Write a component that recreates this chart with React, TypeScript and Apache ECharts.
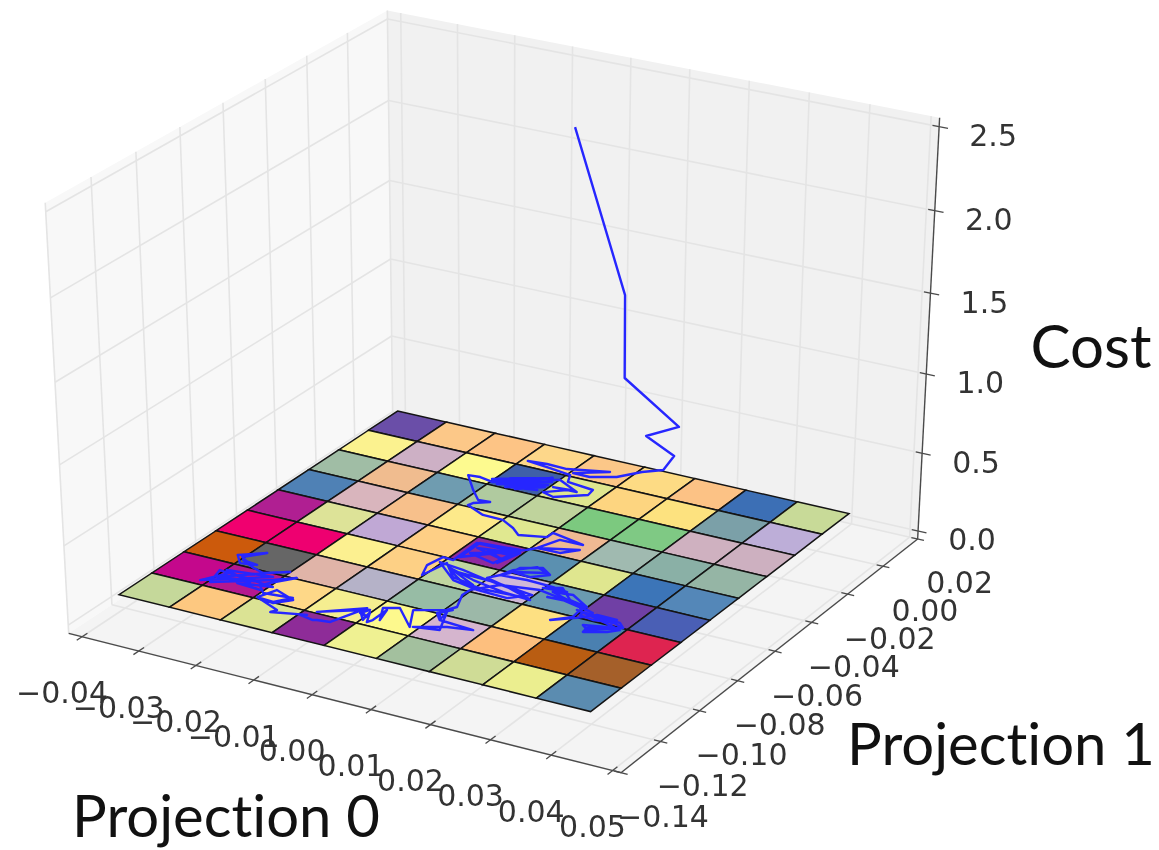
import React, { useEffect, useRef } from "react";
import * as echarts from "echarts";

const P0_TICKS = [-0.04, -0.03, -0.02, -0.01, 0, 0.01, 0.02, 0.03, 0.04, 0.05];
const P0_LABELS = ["\u22120.04", "\u22120.03", "\u22120.02", "\u22120.01", "0.00", "0.01", "0.02", "0.03", "0.04", "0.05"];
const P1_TICKS = [-0.14, -0.12, -0.1, -0.08, -0.06, -0.04, -0.02, 0, 0.02];
const P1_LABELS = ["\u22120.14", "\u22120.12", "\u22120.10", "\u22120.08", "\u22120.06", "\u22120.04", "\u22120.02", "0.00", "0.02"];
const COST_TICKS = [0, 0.5, 1, 1.5, 2, 2.5];
const COST_LABELS = ["0.0", "0.5", "1.0", "1.5", "2.0", "2.5"];
const P0_EDGES = [-0.0418, -0.0328, -0.0238, -0.0148, -0.0058, 0.0032, 0.0122, 0.0212, 0.0302, 0.0392];
const P1_EDGES = [0.021, 0.0056, -0.0099, -0.0253, -0.0408, -0.0562, -0.0716, -0.0871, -0.1025, -0.118];
const HEAT_ROW_0 = ["#6a4ea8", "#fcc888", "#fdc485", "#fdd78a", "#fcc788", "#fddb84", "#fcc285", "#3c6fb5", "#c8da98"];
const HEAT_ROW_1 = ["#fbf28f", "#cdb0c5", "#fdfa8f", "#3f5fa8", "#dfe68f", "#fdd580", "#fde27f", "#7ba0a8", "#bdaed8"];
const HEAT_ROW_2 = ["#a0bda5", "#f0bc8f", "#6f9cb0", "#b0ca9f", "#bfd39c", "#7cc97f", "#7fc984", "#cfb1c0", "#cdb0c0"];
const HEAT_ROW_3 = ["#4f81b5", "#d9b5bd", "#f7c08b", "#fde98a", "#e0e890", "#efb993", "#a0bab0", "#8ab0a6", "#95b5a5"];
const HEAT_ROW_4 = ["#b01f92", "#dde398", "#c0a8d5", "#fecf85", "#8f2a9e", "#5b90b0", "#dfe68f", "#3c75b8", "#5487b8"];
const HEAT_ROW_5 = ["#f0006f", "#ee0070", "#fcf090", "#fdd085", "#c0d6a0", "#d0b8d8", "#6a9ab0", "#7040a5", "#4a5fb5"];
const HEAT_ROW_6 = ["#cc5a0c", "#666666", "#e0b4a8", "#b5b2c8", "#97bca5", "#9cb8a8", "#fde082", "#4a80b0", "#de2450"];
const HEAT_ROW_7 = ["#c4088c", "#b5188f", "#fed888", "#f5ee90", "#fdf98d", "#d5b5ce", "#fdbf7e", "#b95d12", "#a5602a"];
const HEAT_ROW_8 = ["#c5d89a", "#fdc880", "#dbe394", "#8e2c98", "#eff192", "#a3c09e", "#cfdc96", "#ebee8f", "#5b8cb0"];
const HEAT_ROWS = [HEAT_ROW_0, HEAT_ROW_1, HEAT_ROW_2, HEAT_ROW_3, HEAT_ROW_4, HEAT_ROW_5, HEAT_ROW_6, HEAT_ROW_7, HEAT_ROW_8];

const TRAJ_P0 = [
  0.0055, 0.0124, 0.0129, 0.0203, 0.0148, 0.0179, 0.0162, 0.0095, 0.0042, -0.0023,
  -0.0053, -0.0005, -0.0069, -0.0106, -0.0138, -0.0094, -0.0053, -0.0043, 0.0006, 0.0009,
  -0.0034, -0.0057, -0.0025, -0.0053, -0.0012, -0.0057, -0.0115, -0.0151, -0.0111, -0.0069,
  -0.0133, -0.0071, -0.0143, -0.0064, -0.0135, -0.0064, -0.0118, -0.0064, -0.0101, -0.0082,
  -0.0134, -0.0071, -0.0144, -0.0171, -0.0191, -0.0155, -0.0129, -0.0109, -0.013, -0.0133,
  -0.0094, -0.0058, -0.0029, -0.0009, 0.0033, 0.0033, 0.0095, 0.0055, 0.004, 0.01,
  0.0079, 0.004, 0.003, -0.0045, -0.0045, 0.0021, 0.001, -0.0039, 0.0023, -0.0039,
  0.0017, -0.0022, 0.0017, 0.0015, 0.0027, -0.0049, -0.0048, -0.0067, -0.0073, -0.0061,
  -0.0051, -0.0017, 0.0024, -0.0038, 0.0015, 0.0076, 0.0125, 0.0098, 0.0033, -0.0017,
  -0.0062, -0.0011, 0.0038, 0.0092, 0.0119, 0.0051, -0.0034, 0.0007, 0.0051, 0.0117,
  0.0072, 0.0029, 0.005, 0.0054, 0.0084, 0.0106, 0.0084, 0.0052, 0.0099, 0.0075,
  0.0049, 0.0041, 0.0085, 0.0132, 0.0159, 0.012, 0.0146, 0.0177, 0.0211, 0.0172,
  0.014, 0.0229, 0.0168, 0.0142, 0.0191, 0.0216, 0.0216, 0.0241, 0.027, 0.0292,
  0.0247, 0.0249, 0.028, 0.0293, 0.0236, 0.0203, 0.0247, 0.0281, 0.0294, 0.0251,
  0.0237, 0.0271, 0.0272, 0.0238, 0.0217, 0.0186, 0.021, 0.0206, 0.012, 0.0059,
  0.0029, 0.0028, 0.0043, 0.003, 0.0044, 0.0105, 0.0066, 0.004, 0.0022, 0.0062,
  0.0039, 0.0044, 0.0028, 0.0043, -0.0008, 0.0018, -0.0029, -0.0051, -0.0033, -0.0042,
  -0.0042, -0.0046, -0.006, -0.0055, -0.0077, -0.0055, -0.0071, -0.0064, -0.0129, -0.0071,
  -0.0093, -0.0114, -0.0119, -0.0145, -0.0136, -0.0189, -0.0184, -0.0234, -0.0202, -0.0182,
  -0.0222, -0.0234, -0.0204, -0.0186, -0.0234, -0.0254, -0.0219, -0.0246, -0.0324, -0.0335,
  -0.0233, -0.0287, -0.0244, -0.0317, -0.0259, -0.0316, -0.0341, -0.0252, -0.0326, -0.0272,
  -0.0325, -0.0267, -0.0243, -0.0239, -0.0273, -0.0299, -0.0324, -0.0296, -0.0322, -0.0341,
  -0.0306, -0.0331, -0.0297,
];
const TRAJ_P1 = [
  -0.0256, -0.0199, -0.021, -0.0146, -0.0149, -0.0092, -0.0096, -0.0001, 0.0026, 0.0079,
  0.008, 0.0135, 0.0095, 0.0098, 0.009, 0.0078, 0.0064, 0.0021, 0.0008, -0.0027,
  -0.0085, -0.007, -0.0022, -0.0028, -0.0025, 0.0022, -0.002, -0.0063, -0.0085, -0.0066,
  -0.0075, 0.0024, -0.007, 0, -0.0085, -0.0023, -0.0091, -0.0038, -0.009, -0.001,
  -0.0045, 0.0024, -0.0079, -0.0067, -0.0072, -0.0151, -0.0201, -0.0197, -0.0225, -0.0243,
  -0.0279, -0.0281, -0.0313, -0.0345, -0.0319, -0.0288, -0.0316, -0.0318, -0.0392, -0.0348,
  -0.039, -0.0392, -0.0416, -0.0542, -0.0439, -0.0426, -0.0532, -0.0507, -0.0446, -0.047,
  -0.0502, -0.0468, -0.0466, -0.0526, -0.0442, -0.0443, -0.0567, -0.0564, -0.0628, -0.0688,
  -0.0591, -0.0659, -0.0676, -0.0614, -0.0649, -0.0675, -0.0683, -0.0653, -0.0631, -0.0608,
  -0.0595, -0.0675, -0.0697, -0.0702, -0.0654, -0.0634, -0.0625, -0.0678, -0.0685, -0.0676,
  -0.0643, -0.062, -0.0564, -0.0524, -0.0494, -0.0523, -0.056, -0.0555, -0.0516, -0.0497,
  -0.0544, -0.0588, -0.058, -0.0584, -0.0593, -0.0602, -0.0577, -0.0632, -0.0648, -0.0601,
  -0.0611, -0.0672, -0.0641, -0.0645, -0.0639, -0.0684, -0.0699, -0.0709, -0.0694, -0.0714,
  -0.0758, -0.0784, -0.0754, -0.0727, -0.0693, -0.0676, -0.0689, -0.069, -0.0713, -0.0769,
  -0.0748, -0.0728, -0.0678, -0.0677, -0.0718, -0.0763, -0.0718, -0.0653, -0.0617, -0.0641,
  -0.0706, -0.0743, -0.0813, -0.0861, -0.0903, -0.0913, -0.093, -0.0955, -0.0973, -0.0955,
  -0.0852, -0.0903, -0.087, -0.0834, -0.0885, -0.0977, -0.0891, -0.0912, -0.0979, -0.0918,
  -0.0988, -0.1006, -0.095, -0.1, -0.0952, -0.098, -0.0968, -0.0939, -0.1017, -0.0933,
  -0.1052, -0.1059, -0.1064, -0.1054, -0.1045, -0.1077, -0.1058, -0.1016, -0.1027, -0.0985,
  -0.0954, -0.1016, -0.1021, -0.0975, -0.0987, -0.0949, -0.0865, -0.0906, -0.0998, -0.0922,
  -0.0943, -0.0968, -0.0975, -0.0955, -0.0933, -0.0925, -0.1, -0.089, -0.0913, -0.0946,
  -0.0962, -0.0877, -0.0846, -0.0842, -0.0882, -0.0864, -0.0839, -0.0847, -0.0859, -0.0819,
  -0.077, -0.0824, -0.0863,
];
// Cost of the descent; every later point lies on the floor (cost about 0).
const TRAJ_COST = [2.5, 1.5, 1.0, 0.7, 0.6, 0.45, 0.35, 0.2, 0.1];

const X_LIM = [-0.0405, 0.0495];
const Y_LIM = [-0.1368, 0.0168];
const Z_LIM = [0, 2.5];
const PAD = 1 / 48;
const DIST = 10;
const ELEV = (30 * Math.PI) / 180;
const AZIM = (-60 * Math.PI) / 180;
const SX = 6120, SY = 4718, TX = 500, TY = 378;

const N = [Math.cos(ELEV) * Math.cos(AZIM), Math.cos(ELEV) * Math.sin(AZIM), Math.sin(ELEV)];
const U = [-Math.sin(AZIM), Math.cos(AZIM), 0];
const V = [N[1] * U[2] - N[2] * U[1], N[2] * U[0] - N[0] * U[2], N[0] * U[1] - N[1] * U[0]];
const dot = (a: number[], b: number[]) => a[0] * b[0] + a[1] * b[1] + a[2] * b[2];
function proj(u: number, v: number, w: number) {
  const d = [u - 0.5, v - 0.5, w - 0.5];
  const D = DIST - dot(N, d);
  return [TX + (SX * dot(U, d)) / D, TY - (SY * dot(V, d)) / D];
}
const nx = (p: number) => (p - X_LIM[0]) / (X_LIM[1] - X_LIM[0]);
const ny = (p: number) => (p - Y_LIM[0]) / (Y_LIM[1] - Y_LIM[0]);
const nz = (p: number) => (p - Z_LIM[0]) / (Z_LIM[1] - Z_LIM[0]);
const data3 = (a: number, b: number, c: number) => proj(nx(a), ny(b), nz(c));

const LO = -PAD, HI = 1 + PAD;
const GRID = "#e4e4e4";

function seg(a: number[], b: number[], stroke: string, lineWidth: number) {
  return { type: "line", shape: { x1: a[0], y1: a[1], x2: b[0], y2: b[1] }, style: { stroke, lineWidth } };
}
function poly(points: number[][], fill: string, stroke?: string, lineWidth?: number) {
  return { type: "polygon", shape: { points }, style: { fill, stroke: stroke ?? "none", lineWidth: lineWidth ?? 0 } };
}
function label(text: string, x: number, y: number, fontSize: number, fontFamily: string, fill: string) {
  return { type: "text", style: { text, x, y, fontSize, fontFamily, fill, align: "center", verticalAlign: "middle", textAlign: "center", textVerticalAlign: "middle" } };
}
function series(name: string, items: any[]) {
  return {
    name, type: "custom", coordinateSystem: "none", silent: true,
    data: items.map((_, i) => i),
    renderItem: (params: any) => items[params.dataIndex],
  };
}

function buildOption() {
  const panes = [
    poly([proj(LO, LO, LO), proj(LO, HI, LO), proj(LO, HI, HI), proj(LO, LO, HI)], "#f8f8f8"),
    poly([proj(LO, HI, LO), proj(HI, HI, LO), proj(HI, HI, HI), proj(LO, HI, HI)], "#f1f1f1"),
    poly([proj(LO, LO, LO), proj(HI, LO, LO), proj(HI, HI, LO), proj(LO, HI, LO)], "#f4f4f4"),
  ];
  const grids: any[] = [];
  P0_TICKS.forEach((t) => {
    const u = nx(t);
    grids.push(seg(proj(u, LO, LO), proj(u, HI, LO), GRID, 1.6), seg(proj(u, HI, LO), proj(u, HI, HI), GRID, 1.6));
  });
  P1_TICKS.forEach((t) => {
    const v = ny(t);
    grids.push(seg(proj(HI, v, LO), proj(LO, v, LO), GRID, 1.6), seg(proj(LO, v, LO), proj(LO, v, HI), GRID, 1.6));
  });
  COST_TICKS.forEach((t) => {
    const w = nz(t);
    grids.push(seg(proj(LO, LO, w), proj(LO, HI, w), GRID, 1.6), seg(proj(LO, HI, w), proj(HI, HI, w), GRID, 1.6));
  });
  const AX = "#4a4a4a";
  const axes: any[] = [
    seg(proj(LO, LO, LO), proj(HI, LO, LO), AX, 1.4),
    seg(proj(HI, LO, LO), proj(HI, HI, LO), AX, 1.4),
    seg(proj(HI, HI, LO), proj(HI, HI, HI), AX, 1.4),
  ];
  P0_TICKS.forEach((t) => axes.push(seg(proj(nx(t), LO + 0.016, LO), proj(nx(t), LO - 0.016, LO), AX, 1.3)));
  P1_TICKS.forEach((t) => axes.push(seg(proj(HI - 0.012, ny(t), LO), proj(HI + 0.012, ny(t), LO), AX, 1.3)));
  COST_TICKS.forEach((t) => axes.push(seg(proj(HI - 0.012, HI, nz(t)), proj(HI + 0.016, HI, nz(t)), AX, 1.3)));

  const cells: any[] = [];
  HEAT_ROWS.forEach((row, r) =>
    row.forEach((color, c) => {
      cells.push(
        poly(
          [
            data3(P0_EDGES[c], P1_EDGES[r], 0),
            data3(P0_EDGES[c + 1], P1_EDGES[r], 0),
            data3(P0_EDGES[c + 1], P1_EDGES[r + 1], 0),
            data3(P0_EDGES[c], P1_EDGES[r + 1], 0),
          ],
          color, "#141414", 1.5
        )
      );
    })
  );
  const traj = [
    {
      type: "polyline",
      shape: { points: TRAJ_P0.map((p, i) => data3(p, TRAJ_P1[i], TRAJ_COST[i] ?? 0)) },
      style: { stroke: "#2626ff", lineWidth: 2.4, fill: "none", lineJoin: "round" },
    },
  ];
  const TICK_FONT = "'DejaVu Sans'";
  const TICK_COLOR = "#333333";
  const texts: any[] = [];
  P0_TICKS.forEach((t, i) => {
    const p = proj(nx(t), LO, LO);
    texts.push(label(P0_LABELS[i], p[0] - 20, p[1] + 56, 30, TICK_FONT, TICK_COLOR));
  });
  P1_TICKS.forEach((t, i) => {
    const p = proj(HI, ny(t), LO);
    texts.push(label(P1_LABELS[i], p[0] + 42, p[1] + 44, 30, TICK_FONT, TICK_COLOR));
  });
  COST_TICKS.forEach((t, i) => {
    const p = proj(HI, HI, nz(t));
    texts.push(label(COST_LABELS[i], p[0] + 54, p[1] + 9, 30, TICK_FONT, TICK_COLOR));
  });
  texts.push(label("Projection 0", 226, 814, 58, "Lato", "#111111"));
  texts.push(label("Projection 1", 1001, 742, 58, "Lato", "#111111"));
  texts.push(label("Cost", 1091, 345, 60, "Lato", "#111111"));
  return {
    animation: false,
    backgroundColor: "#ffffff",
    series: [series("panes", panes), series("gridlines", grids), series("axes", axes), series("cells", cells), series("trajectory", traj), series("labels", texts)],
  };
}

export default function App() {
  const ref = useRef<HTMLDivElement>(null);
  useEffect(() => {
    document.body.style.margin = "0";
    const chart = echarts.init(ref.current!, undefined, { renderer: "svg" });
    chart.setOption(buildOption());
    return () => chart.dispose();
  }, []);
  return <div ref={ref} style={{ width: 1159, height: 850, filter: "blur(0.6px)", fontVariantLigatures: "none" }} />;
}
